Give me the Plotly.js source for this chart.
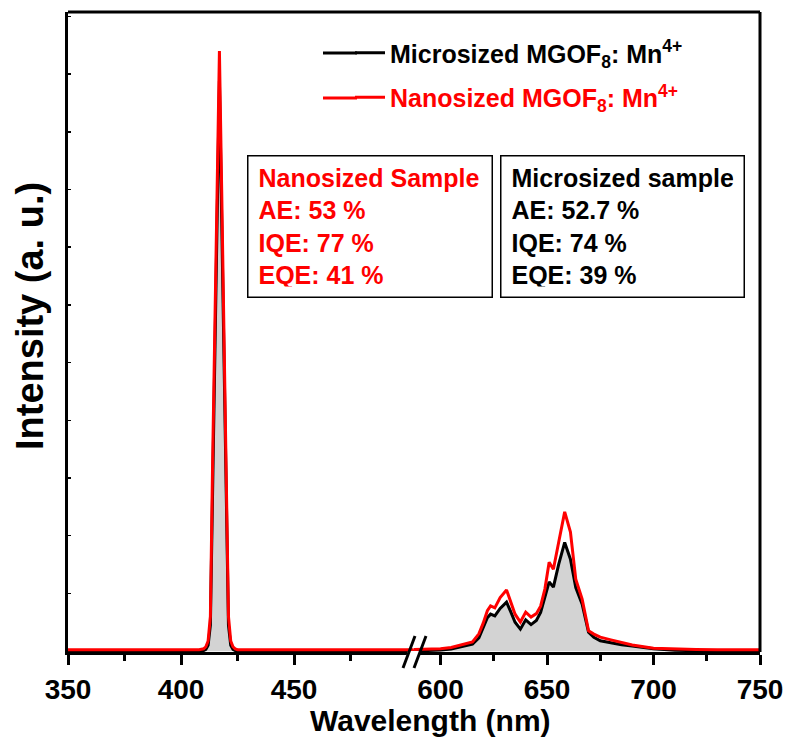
<!DOCTYPE html>
<html>
<head>
<meta charset="utf-8">
<script src="https://cdn.plot.ly/plotly-3.0.1.min.js"></script>
<style>
html,body{margin:0;padding:0;background:#fff;}
#chart{width:789px;height:745px;}
</style>
</head>
<body>
<div id="chart"></div>
<script>
// ---- data ----
const leftWl = [350, 370, 390, 400, 405, 408, 410, 411, 412, 413, 414, 415, 416, 417, 418, 419, 420, 421, 422, 423, 424, 425, 428, 435, 450, 470, 490, 503];
const microLeft = [0, 0, 0, 0, 0, 0, 10, 30, 100, 450, 3000, 5300, 7500, 9880, 7500, 5300, 3000, 450, 100, 30, 10, 0, 0, 0, 0, 0, 0, 0];
const nanoLeft  = [26, 26, 26, 26, 26, 26, 40, 76, 176, 600, 3300, 5700, 8000, 10400, 8000, 5700, 3300, 600, 176, 76, 40, 26, 26, 26, 26, 26, 26, 26];

const rightWl = [587, 595, 600, 605, 610, 615, 618, 620, 622, 623.5, 625.5, 628, 631, 633, 635, 637.5, 640, 642.5, 645, 647, 649, 651, 653, 655.5, 658.3, 661, 663.5, 666.5, 669.5, 672, 675, 680, 685, 690, 700, 710, 720, 730, 750];
const microRight = [0, 9, 20, 35, 75, 121, 230, 400, 580, 641, 610, 740, 849, 680, 500, 381, 542, 460, 530, 671, 950, 1201, 1109, 1508, 1884, 1594, 1100, 815, 329, 240, 179, 140, 110, 87, 40, 15, 5, 0, 0];
const nanoRight  = [26, 35, 43, 64, 115, 161, 300, 480, 700, 785, 750, 930, 1060, 850, 640, 505, 676, 590, 650, 780, 1075, 1540, 1420, 1890, 2414, 2062, 1248, 901, 352, 295, 243, 196, 150, 105, 52, 35, 30, 26, 26];

const leftTicks = [350, 400, 450];
const leftMinor = [375, 425, 475];
const rightTicks = [600, 650, 700, 750];
const rightMinor = [625, 675, 725];

const nameMicro = 'Microsized MGOF<sub>8</sub>: Mn<sup>4+</sup>';
const nameNano = '<span style="color:#ff0000">Nanosized MGOF<sub>8</sub>: Mn<sup>4+</sup></span>';
const boxNano = ['Nanosized Sample', 'AE: 53 %', 'IQE: 77 %', 'EQE: 41 %'];
const boxMicro = ['Microsized sample', 'AE: 52.7 %', 'IQE: 74 %', 'EQE: 39 %'];
const xTitle = 'Wavelength (nm)';
const yTitle = 'Intensity (a. u.)';

// ---- font availability (narrow face matches the condensed reference lettering) ----
function hasFont(f) {
  const c = document.createElement('canvas').getContext('2d');
  const s = 'Wavelength 350 MGOF';
  c.font = 'bold 40px monospace';
  const a = c.measureText(s).width;
  c.font = 'bold 40px "' + f + '", monospace';
  const b = c.measureText(s).width;
  return Math.abs(a - b) > 0.5;
}
const NARROW = hasFont('Liberation Sans Narrow');
const FONT = 'Arial, "Liberation Sans", sans-serif';
const NFONT = NARROW ? '"Liberation Sans Narrow", Arial, sans-serif' : FONT;
const szTick = NARROW ? 34 : 28;
const szXT = NARROW ? 36 : 30;
const szLeg = NARROW ? 30 : 25;
const legGap = NARROW ? 4 : 9;

// ---- layout helpers (pixel geometry of the reference) ----
const W = 789, H = 745;
const mL = 68, mR = 29, mT = 12, mB = 93;
const pw = W - mL - mR, ph = H - mT - mB;
const px = x => (x - mL) / pw;
const py = y => (H - mB - y) / ph;
const split = px(414);
const fillCol = '#d3d3d3';

const traces = [
  {x: leftWl, y: microLeft, xaxis: 'x', yaxis: 'y', type: 'scatter', mode: 'lines', fill: 'tozeroy', fillcolor: fillCol, line: {width: 0, color: fillCol}, showlegend: false, hoverinfo: 'skip'},
  {x: rightWl, y: microRight, xaxis: 'x2', yaxis: 'y', type: 'scatter', mode: 'lines', fill: 'tozeroy', fillcolor: fillCol, line: {width: 0, color: fillCol}, showlegend: false, hoverinfo: 'skip'},
  {x: leftWl, y: microLeft, xaxis: 'x', yaxis: 'y', type: 'scatter', mode: 'lines', name: nameMicro, legendgroup: 'm', line: {color: '#000000', width: 3}},
  {x: rightWl, y: microRight, xaxis: 'x2', yaxis: 'y', type: 'scatter', mode: 'lines', name: nameMicro, legendgroup: 'm', showlegend: false, line: {color: '#000000', width: 3}},
  {x: leftWl, y: nanoLeft, xaxis: 'x', yaxis: 'y', type: 'scatter', mode: 'lines', name: nameNano, legendgroup: 'n', line: {color: '#ff0000', width: 3}},
  {x: rightWl, y: nanoRight, xaxis: 'x2', yaxis: 'y', type: 'scatter', mode: 'lines', name: nameNano, legendgroup: 'n', showlegend: false, line: {color: '#ff0000', width: 3}}
];

const tickFont = {family: NFONT, size: szTick, color: '#000', weight: 'bold'};
const xCommon = {
  showline: true, linecolor: '#000', linewidth: 3,
  ticks: 'outside', ticklen: 10, tickwidth: 3, tickcolor: '#000',
  tickmode: 'array', showgrid: false, zeroline: false, tickfont: tickFont,
  anchor: 'y', fixedrange: true
};

const layout = {
  width: W, height: H,
  margin: {l: mL, r: mR, t: mT, b: mB, pad: 0},
  paper_bgcolor: '#fff', plot_bgcolor: '#fff',
  showlegend: true,
  legend: {x: px(350), y: py(30), xanchor: 'left', yanchor: 'top', bgcolor: 'rgba(0,0,0,0)', borderwidth: 0,
           font: {family: NFONT, size: szLeg, color: '#000', weight: 'bold'}, tracegroupgap: legGap, itemwidth: 30},
  xaxis: Object.assign({}, xCommon, {domain: [0, split], range: [350, 503.1], tickvals: leftTicks,
          minor: {tickmode: 'array', tickvals: leftMinor, ticks: 'outside', ticklen: 6, tickwidth: 3, tickcolor: '#000', showgrid: false}}),
  xaxis2: Object.assign({}, xCommon, {domain: [split, 1], range: [587.55, 750], tickvals: rightTicks,
          minor: {tickmode: 'array', tickvals: rightMinor, ticks: 'outside', ticklen: 6, tickwidth: 3, tickcolor: '#000', showgrid: false}}),
  yaxis: {range: [-15, 11077], showline: true, linecolor: '#000', linewidth: 3, ticks: 'inside', ticklen: 3, tickwidth: 1.5,
          tickcolor: '#000', dtick: 1000, tick0: 0, showticklabels: false, showgrid: false, zeroline: false, fixedrange: true},
  shapes: [
    {type: 'line', xref: 'paper', yref: 'paper', x0: 0, x1: 1, y0: 1, y1: 1, line: {color: '#000', width: 3}, layer: 'above'},
    {type: 'line', xref: 'paper', yref: 'paper', x0: 1, x1: 1, y0: 0, y1: 1, line: {color: '#000', width: 3}, layer: 'above'},
    {type: 'path', xref: 'paper', yref: 'paper', path: 'M' + px(408) + ',' + py(651) + ' L' + px(420) + ',' + py(651) + ' L' + px(418) + ',' + py(657) + ' L' + px(406) + ',' + py(657) + ' Z',
     fillcolor: '#fff', line: {width: 0}, layer: 'above'},
    {type: 'line', xref: 'paper', yref: 'paper', x0: px(403), y0: py(668), x1: px(415), y1: py(636), line: {color: '#000', width: 3}, layer: 'above'},
    {type: 'line', xref: 'paper', yref: 'paper', x0: px(414), y0: py(668), x1: px(426), y1: py(636), line: {color: '#000', width: 3}, layer: 'above'},
    // longer legend line samples, as in the reference
    {type: 'line', xref: 'paper', yref: 'paper', x0: px(323), x1: px(357), y0: py(53), y1: py(53), line: {color: '#000', width: 3}, layer: 'above'},
    {type: 'line', xref: 'paper', yref: 'paper', x0: px(323), x1: px(357), y0: py(98), y1: py(98), line: {color: '#ff0000', width: 3}, layer: 'above'}
  ],
  annotations: [
    {xref: 'paper', yref: 'paper', x: px(247), y: py(155), xanchor: 'left', yanchor: 'top', showarrow: false, align: 'left',
     text: boxNano.join('<br>'), font: {family: FONT, size: 25, color: '#ff0000', weight: 'bold'},
     bordercolor: '#000', borderwidth: 1.5, borderpad: 10, bgcolor: '#fff', width: 223, height: 120},
    {xref: 'paper', yref: 'paper', x: px(500), y: py(155), xanchor: 'left', yanchor: 'top', showarrow: false, align: 'left',
     text: boxMicro.join('<br>'), font: {family: FONT, size: 25, color: '#000', weight: 'bold'},
     bordercolor: '#000', borderwidth: 1.5, borderpad: 10, bgcolor: '#fff', width: 222, height: 120},
    {xref: 'paper', yref: 'paper', x: px(430), y: py(720), xanchor: 'center', yanchor: 'middle', showarrow: false,
     text: xTitle, font: {family: NFONT, size: szXT, color: '#000', weight: 'bold'}},
    {xref: 'paper', yref: 'paper', x: px(30), y: py(316), xanchor: 'center', yanchor: 'middle', showarrow: false, textangle: -90,
     text: yTitle, font: {family: FONT, size: 38, color: '#000', weight: 'bold'}}
  ]
};

Plotly.newPlot('chart', traces, layout, {staticPlot: true, displayModeBar: false});
</script>
</body>
</html>
